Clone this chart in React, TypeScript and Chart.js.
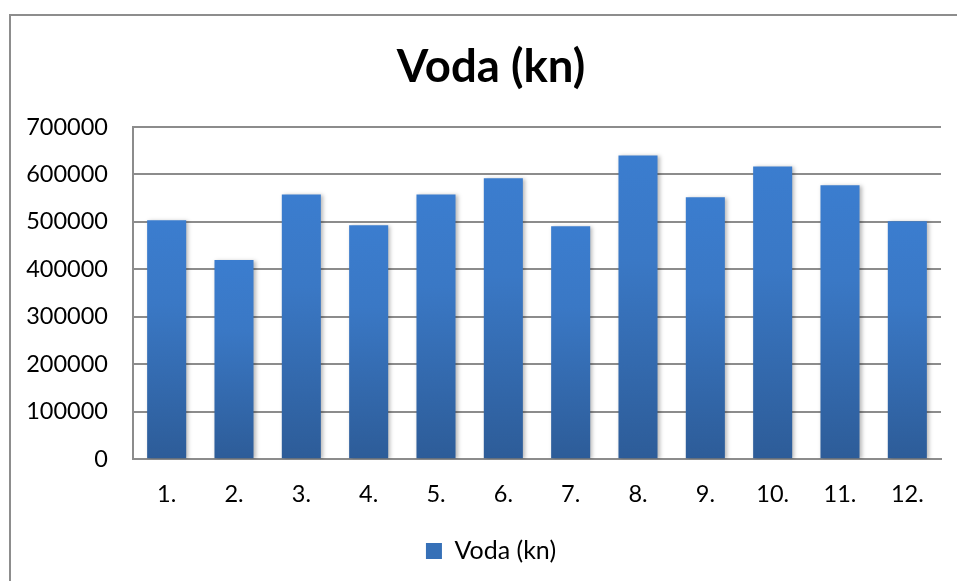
import React, { useEffect, useRef } from "react";
import { Chart, registerables } from "chart.js";

Chart.register(...registerables);

const chartTitle = "Voda (kn)";
const seriesName = "Voda (kn)";
const categories = ["1.", "2.", "3.", "4.", "5.", "6.", "7.", "8.", "9.", "10.", "11.", "12."];
const values = [503500, 419500, 558000, 493000, 558000, 592000, 491000, 640000, 552000, 617000, 577000, 501500];
const yMin = 0;
const yMax = 700000;
const yStep = 100000;

const FONT = "Lato, 'Open Sans', sans-serif";
const GRID = "#8c8c8c";

const barShadow = {
  id: "barShadow",
  beforeDatasetsDraw(chart: any) {
    const c = chart.ctx;
    c.save();
    c.shadowColor = "rgba(0,0,0,0.28)";
    c.shadowBlur = 4;
    c.shadowOffsetX = 2;
    c.shadowOffsetY = 1;
  },
  afterDatasetsDraw(chart: any) {
    chart.ctx.restore();
  },
};

export default function App() {
  const ref = useRef<HTMLCanvasElement | null>(null);

  useEffect(() => {
    if (!ref.current) return;
    const chart = new Chart(ref.current, {
      type: "bar",
      data: {
        labels: categories,
        datasets: [
          {
            label: seriesName,
            data: values,
            barPercentage: 0.58,
            categoryPercentage: 1,
            borderWidth: 0,
            backgroundColor: (ctx: any) => {
              const ch = ctx.chart;
              if (!ch.chartArea || ctx.type !== "data" || !ctx.parsed) return "#3a78c6";
              const ys = ch.scales.y;
              const top = ys.getPixelForValue(ctx.parsed.y);
              const bottom = ys.getPixelForValue(0);
              const g = ch.ctx.createLinearGradient(0, top, 0, bottom);
              g.addColorStop(0, "#3b7dcf");
              g.addColorStop(0.35, "#3a78c5");
              g.addColorStop(1, "#2d5c98");
              return g;
            },
          },
        ],
      },
      options: {
        responsive: false,
        animation: false,
        layout: { padding: { left: 0, right: 0, top: 0, bottom: 12.5 } },
        plugins: {
          title: {
            display: true,
            text: chartTitle,
            color: "#000",
            font: { family: FONT, size: 45.5, weight: "bold" },
            padding: { top: 24.5, bottom: 31.9 },
          },
          legend: {
            display: true,
            position: "bottom",
            labels: {
              color: "#000",
              font: { family: FONT, size: 25 },
              boxWidth: 16,
              boxHeight: 16,
              padding: 9.3,
              generateLabels: () => [
                {
                  text: seriesName,
                  fillStyle: "#3670b7",
                  strokeStyle: "#3670b7",
                  lineWidth: 0,
                  hidden: false,
                  datasetIndex: 0,
                },
              ],
            },
          },
          tooltip: { enabled: false },
        },
        scales: {
          x: {
            grid: { display: false, drawTicks: false },
            border: { display: true, color: GRID, width: 2 },
            ticks: { color: "#000", font: { family: FONT, size: 23.5 }, padding: 21, maxRotation: 0 },
            afterFit: (s: any) => {
              s.height = 70;
            },
          },
          y: {
            min: yMin,
            max: yMax,
            grid: { color: GRID, lineWidth: 2, drawTicks: false },
            border: { display: true, color: GRID, width: 2 },
            ticks: {
              stepSize: yStep,
              color: "#000",
              font: { family: FONT, size: 23.5 },
              padding: 25,
              callback: (v: any) => String(v),
            },
            afterFit: (s: any) => {
              s.width = 122;
            },
          },
          spacer: {
            type: "linear",
            position: "right",
            display: true,
            grid: { display: false, drawTicks: false },
            border: { display: false },
            ticks: { display: false },
            afterFit: (s: any) => {
              s.width = 30;
            },
          },
        },
      },
      plugins: [barShadow],
    } as any);
    return () => chart.destroy();
  }, []);

  return (
    <div
      style={{
        position: "fixed",
        left: 0,
        top: 0,
        width: 957,
        height: 581,
        overflow: "hidden",
        background: "#fff",
      }}
    >
      <div
        style={{
          position: "absolute",
          left: 9,
          top: 14,
          width: 960,
          height: 570,
          borderLeft: "2px solid #8d8d8d",
          borderTop: "2px solid #8d8d8d",
        }}
      >
        <canvas ref={ref} width={960} height={570} style={{ display: "block", width: 960, height: 570 }} />
      </div>
    </div>
  );
}
